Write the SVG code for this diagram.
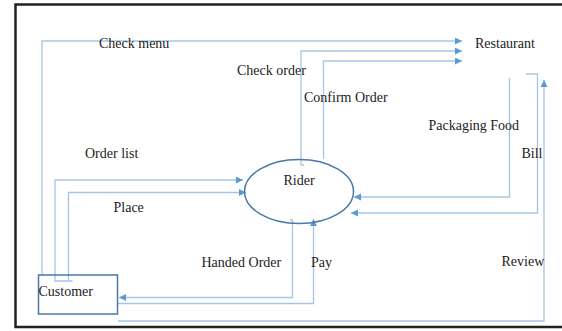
<svg xmlns="http://www.w3.org/2000/svg" width="562" height="331" viewBox="0 0 562 331">
<style>
  .ln{fill:none;stroke:#a7c6e6;stroke-width:1.3}
  .la{fill:none;stroke:#a7c6e6;stroke-width:1.3;marker-end:url(#ah)}
  .t{font-family:"Liberation Serif","Times New Roman",serif;font-size:14px;fill:#222}
  .node{fill:none;stroke:#4a78a8;stroke-width:1.5}
</style>
<defs>
  <marker id="ah" markerWidth="8" markerHeight="8" refX="7" refY="3.5" orient="auto" markerUnits="userSpaceOnUse">
    <path d="M0,0 L7,3.5 L0,7 Z" fill="#5b9bd5"/>
  </marker>
</defs>
<rect x="0" y="0" width="562" height="331" fill="#fff"/>
<rect x="15.5" y="4.5" width="552" height="322.5" fill="none" stroke="#222" stroke-width="2.5"/>
<g id="connectors">
  <!-- Check menu -->
  <polyline class="la" points="42,275 42,41 462,41"/>
  <!-- Check order -->
  <polyline class="la" points="304,165 301,165 301,51 462,51"/>
  <!-- Confirm Order -->
  <polyline class="la" points="323.5,159 323.5,61 462,61"/>
  <!-- Packaging Food -->
  <polyline class="la" points="509.5,78 509.5,197 354,197"/>
  <!-- Bill -->
  <polyline class="la" points="526,74 537.5,74 537.5,213 351,213"/>
  <!-- Review -->
  <polyline class="la" points="118,321 544,321 544,80"/>
  <!-- Order list -->
  <polyline class="la" points="72.5,281 55,281 55,180 243,180"/>
  <!-- Place -->
  <polyline class="la" points="68.5,281 68.5,192.5 246,192.5"/>
  <!-- Handed Order -->
  <polyline class="la" points="290,220 292.5,220 292.5,297.5 119,297.5"/>
  <!-- Pay -->
  <polyline class="la" points="118,303.5 313.5,303.5 313.5,219"/>
</g>
<g id="restaurant">
  <text class="t" x="475" y="48">Restaurant</text>
</g>
<g id="rider">
  <ellipse class="node" cx="299" cy="191.5" rx="54.5" ry="32"/>
  <text class="t" x="299" y="185" text-anchor="middle">Rider</text>
</g>
<g id="customer">
  <rect class="node" x="38.5" y="275" width="79" height="39"/>
  <text class="t" x="38.5" y="296">Customer</text>
</g>
<g id="labels">
  <text class="t" x="99" y="48">Check menu</text>
  <text class="t" x="237" y="75">Check order</text>
  <text class="t" x="304" y="102">Confirm Order</text>
  <text class="t" x="428.5" y="130">Packaging Food</text>
  <text class="t" x="521.5" y="157.5">Bill</text>
  <text class="t" x="85" y="157.5">Order list</text>
  <text class="t" x="113.5" y="211.5">Place</text>
  <text class="t" x="201.5" y="266.5">Handed Order</text>
  <text class="t" x="311" y="266.5">Pay</text>
  <text class="t" x="501.5" y="266">Review</text>
</g>
</svg>
